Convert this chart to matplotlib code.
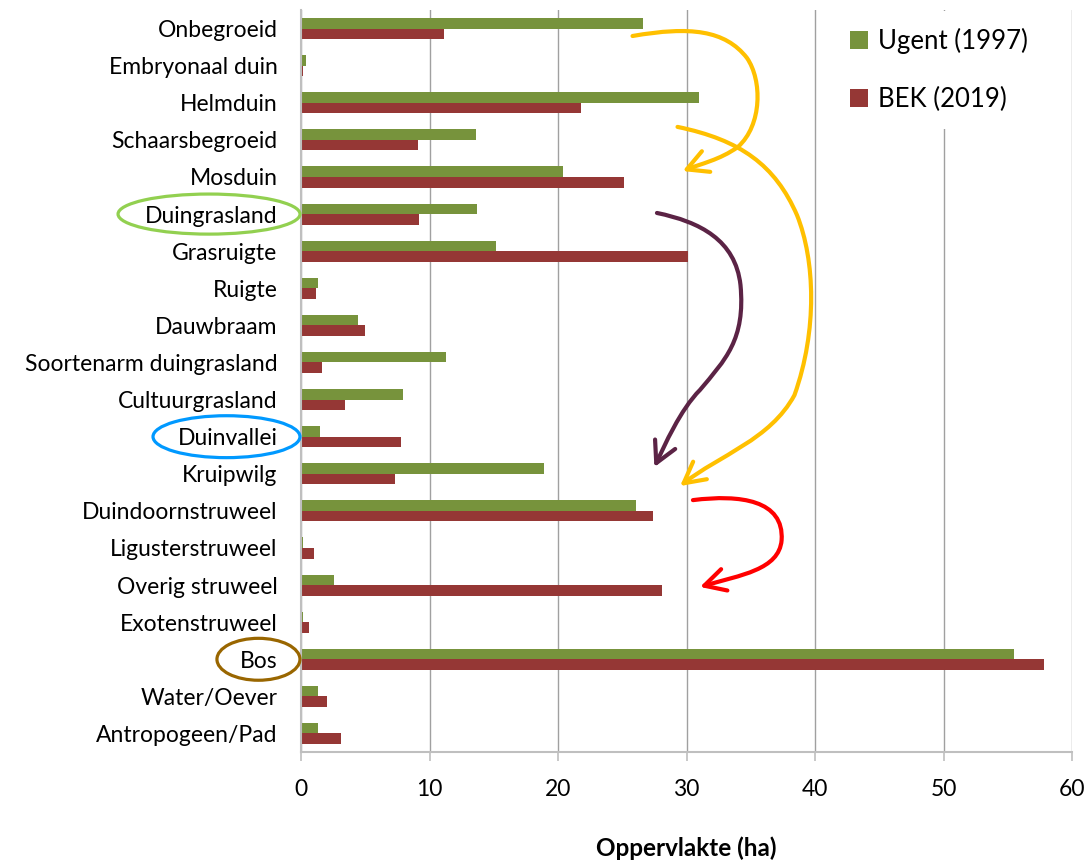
import numpy as np
import matplotlib
matplotlib.use("Agg")
import matplotlib.pyplot as plt
from matplotlib.patches import Ellipse, FancyArrowPatch
from matplotlib.path import Path
from matplotlib.transforms import blended_transform_factory

plt.rcParams['font.family'] = ['Lato', 'DejaVu Sans']

categories = ["Onbegroeid", "Embryonaal duin", "Helmduin", "Schaarsbegroeid", "Mosduin",
              "Duingrasland", "Grasruigte", "Ruigte", "Dauwbraam", "Soortenarm duingrasland",
              "Cultuurgrasland", "Duinvallei", "Kruipwilg", "Duindoornstruweel",
              "Ligusterstruweel", "Overig struweel", "Exotenstruweel", "Bos",
              "Water/Oever", "Antropogeen/Pad"]
ugent_1997 = [26.6, 0.35, 31.0, 13.6, 20.4, 13.7, 15.2, 1.3, 4.4, 11.25,
              7.95, 1.45, 18.9, 26.1, 0.15, 2.6, 0.15, 55.5, 1.35, 1.3]
bek_2019 = [11.1, 0.15, 21.8, 9.1, 25.1, 9.2, 30.1, 1.2, 5.0, 1.6,
            3.4, 7.8, 7.3, 27.4, 1.0, 28.1, 0.6, 57.8, 2.0, 3.1]
series_names = ["Ugent (1997)", "BEK (2019)"]
xticks = [0, 10, 20, 30, 40, 50, 60]

green = '#77933C'
red = '#953735'
grid_c = '#a0a0a0'

fig = plt.figure(figsize=(10.91, 8.65), dpi=100)
ax = fig.add_axes([0.2759, 0.1306, 0.7067, 0.8578])

rows = np.arange(len(categories))
h = 0.285
ax.barh(rows - h / 2, ugent_1997, height=h, color=green, label=series_names[0], zorder=2)
ax.barh(rows + h / 2, bek_2019, height=h, color=red, label=series_names[1], zorder=2)

ax.set_xlim(0, 60)
ax.set_ylim(len(categories) - 0.5, -0.5)
ax.set_xticks(xticks)
ax.set_yticks(rows)
ax.set_yticklabels(categories, fontsize=16.5)
ax.tick_params(axis='y', length=0, pad=17)
ax.tick_params(axis='x', labelsize=16.5, length=6.5, color='#bfbfbf', width=1.2, pad=13)
ax.xaxis.grid(True, color=grid_c, linewidth=1)
ax.set_axisbelow(True)
for s in ['top', 'right']:
    ax.spines[s].set_visible(False)
for s in ['left', 'bottom']:
    ax.spines[s].set_color('#bfbfbf')
    ax.spines[s].set_linewidth(1.5)
ax.set_xlabel('Oppervlakte (ha)', fontsize=17.5, fontweight='bold', labelpad=26)

leg = ax.legend(loc='upper left', bbox_to_anchor=(0.690, 0.9987), bbox_transform=ax.transAxes,
                borderaxespad=0, fontsize=18.5, frameon=True, fancybox=False, facecolor='white',
                edgecolor='none', framealpha=1, borderpad=0.65, labelspacing=1.3,
                handlelength=0.7, handleheight=0.7, handletextpad=0.4)
leg.set_zorder(3)

# ellipses around labels (x in figure fraction, y in rows)
trans = blended_transform_factory(fig.transFigure, ax.transData)
ellipses = [(5, 0.1916, 0.1668, 1.08, '#92D050'),
            (11, 0.2076, 0.1347, 1.13, '#0099FF'),
            (17, 0.2369, 0.0761, 1.13, '#996600')]
for r, cx, w, eh, c in ellipses:
    ax.add_patch(Ellipse((cx, r), w, eh, transform=trans, fill=False, edgecolor=c,
                         linewidth=2.3, clip_on=False, zorder=5))

# hand drawn arrows (x in ha, y in rows), cubic segments
arrows = [
    ('#FFC000', [(25.8, 0.20), (30.3, -0.07), (33.0, 0.04), (34.7, 0.79),
                 (35.9, 1.39), (35.9, 2.60), (34.0, 3.19),
                 (32.6, 3.54), (31.05, 3.65), (29.7, 3.84)]),
    ('#FFC000', [(29.3, 2.65), (34.2, 3.00), (36.9, 3.68), (38.6, 5.03),
                 (40.0, 6.24), (40.2, 8.13), (38.4, 9.88),
                 (36.5, 11.09), (32.6, 11.49), (29.5, 12.33)]),
    ('#5B2345', [(27.7, 4.97), (31.05, 5.21), (33.8, 5.70), (34.2, 6.91),
                 (34.6, 8.39), (33.0, 8.93), (31.05, 9.74),
                 (29.5, 10.28), (28.3, 11.23), (27.5, 11.82)]),
    ('#FF0000', [(30.5, 12.71), (34.2, 12.55), (37.6, 12.71), (37.4, 13.79),
                 (37.2, 14.59), (34.2, 14.73), (31.05, 15.05)]),
]
for c, pts in arrows:
    codes = [Path.MOVETO] + [Path.CURVE4] * (len(pts) - 1)
    arr = FancyArrowPatch(path=Path(pts, codes), arrowstyle='->,head_length=0.75,head_width=0.4',
                          mutation_scale=20, color=c, linewidth=3, shrinkA=0, shrinkB=0,
                          capstyle='round', joinstyle='round', zorder=6, clip_on=False)
    ax.add_patch(arr)

fig.savefig('out.png', dpi=100)
